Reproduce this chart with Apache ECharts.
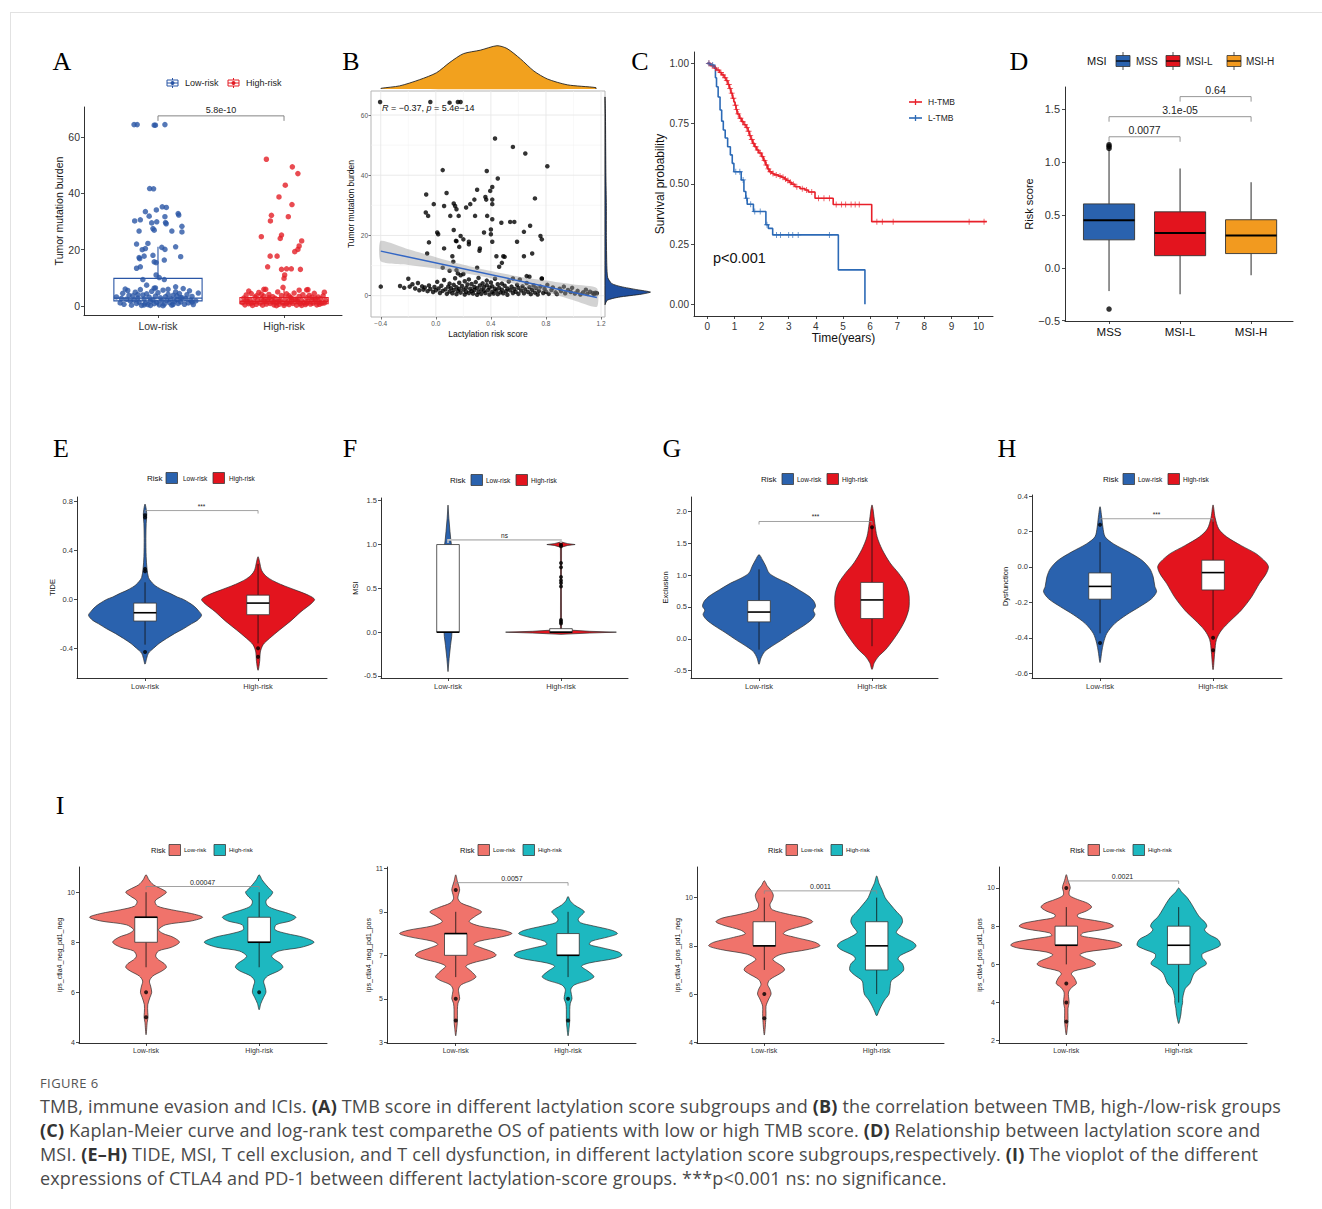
<!DOCTYPE html>
<html>
<head>
<meta charset="utf-8">
<script src="https://cdn.jsdelivr.net/npm/echarts@6/dist/echarts.min.js"></script>
<style>
  html, body { margin: 0; padding: 0; background: #fff; }
  #page { position: relative; width: 1322px; height: 1209px; overflow: hidden; background: #fff; }
  #frame { position: absolute; left: 10px; top: 12px; width: 1320px; height: 1210px; border-left: 1px solid #e2e2e2; border-top: 1px solid #e2e2e2; }
  #fig { position: absolute; left: 0; top: 0; width: 1322px; height: 1066px; }
  #caption { position: absolute; left: 40px; top: 1074px; font-family: 'Open Sans', 'Noto Sans', sans-serif; color: #4a4a4a; }
  .cap-head { font-size: 13px; line-height: 18px; color: #555; letter-spacing: 0.4px; margin-bottom: 2px; }
  .cap-line { font-size: 18px; line-height: 24px; letter-spacing: 0.17px; white-space: nowrap; }
  .cap-line b { color: #333; }
</style>
</head>
<body>
<div id="page">
  <div id="frame"></div>
  <div id="fig"></div>
  <div id="caption">
    <div class="cap-head">FIGURE 6</div>
    <div class="cap-line">TMB, immune evasion and ICIs. <b>(A)</b> TMB score in different lactylation score subgroups and <b>(B)</b> the correlation between TMB, high-/low-risk groups</div>
    <div class="cap-line"><b>(C)</b> Kaplan-Meier curve and log-rank test comparethe OS of patients with low or high TMB score. <b>(D)</b> Relationship between lactylation score and</div>
    <div class="cap-line">MSI. <b>(E–H)</b> TIDE, MSI, T cell exclusion, and T cell dysfunction, in different lactylation score subgroups,respectively. <b>(I)</b> The vioplot of the different</div>
    <div class="cap-line">expressions of CTLA4 and PD-1 between different lactylation-score groups. ***p&lt;0.001 ns: no significance.</div>
  </div>
</div>
<script>
// ---------- shared categories ----------
const riskGroups = ['Low-risk', 'High-risk'];
const msiGroups = ['MSS', 'MSI-L', 'MSI-H'];

// ---------- A: TMB by risk group (jitter offset, TMB) ----------
const tmbTicks = [0, 20, 40, 60];
const tmbLowPoints = [
  [-0.19,64.4],[-0.165,64.4],[-0.03,64.2],[-0.02,64.2],[0.055,64.4],
  [-0.066,41.7],[-0.035,41.6],[0.034,35.2],[0.066,35.0],[-0.013,34.1],[-0.1,33.5],[0.16,32.8],[0.165,32.3],
  [-0.185,30.2],[-0.14,30.6],[-0.07,31.9],[-0.01,29.9],[-0.05,29.5],[0.06,29.6],[0.065,29.2],[0.055,31.7],[0.19,28.3],
  [-0.15,26.6],[-0.04,27.5],[-0.03,26.9],[0.11,26.6],[0.19,26.3],
  [-0.17,22.0],[-0.08,22.2],[-0.125,20.0],[-0.1,20.4],[0.03,20.8],[0.055,20.1],[0.14,21.0],
  [-0.04,18.0],[-0.15,17.2],[-0.145,16.8],[-0.11,17.7],[0.18,17.5],[-0.03,15.7],[-0.015,15.4],[0.05,16.3],
  [-0.17,13.4],[-0.14,13.9],[-0.015,11.0],[0.01,10.1],[-0.12,9.4],[0.05,9.4],[-0.09,7.4],[-0.03,6.3],[0.14,6.8],
  [-0.33,3.2],[-0.3,1.1],[-0.28,4.5],[-0.27,0.6],[-0.25,2.4],[-0.24,5.5],[-0.22,1.8],[-0.21,0.3],[-0.2,3.6],[-0.19,2.1],
  [-0.18,4.9],[-0.17,0.9],[-0.16,2.8],[-0.15,1.4],[-0.14,5.8],[-0.13,0.2],[-0.12,3.9],[-0.11,2.5],[-0.1,1.0],[-0.09,4.3],
  [-0.08,0.5],[-0.07,3.1],[-0.06,1.7],[-0.05,5.2],[-0.04,2.2],[-0.03,0.8],[-0.02,3.5],[-0.01,1.3],[0.0,4.7],[0.01,0.4],
  [0.02,2.9],[0.03,1.9],[0.04,5.6],[0.05,0.7],[0.06,3.3],[0.07,2.0],[0.08,4.1],[0.09,1.2],[0.1,2.6],[0.11,0.3],
  [0.12,3.8],[0.13,1.6],[0.14,5.0],[0.15,2.3],[0.16,0.9],[0.17,4.4],[0.18,1.5],[0.19,3.0],[0.2,6.2],[0.21,0.6],
  [0.22,2.7],[0.23,4.0],[0.24,1.1],[0.25,5.4],[0.26,2.0],[0.27,3.4],[0.28,0.5],[0.3,1.8],[0.32,4.6],[-0.26,6.0],
  [-0.29,2.7],[-0.23,3.8],[0.04,0.1],[-0.06,0.2],[0.12,0.6],[0.18,2.9],[-0.16,4.0],[0.08,5.9],[-0.02,6.4],[0.27,1.4],
  [-0.11,0.4],[0.15,3.6]
];
const tmbHighPoints = [
  [-0.14,52.1],[0.066,49.4],[0.11,47.0],[0.01,42.9],[-0.04,38.7],[0.063,36.0],[-0.1,32.2],[-0.108,30.2],[0.034,31.7],
  [-0.18,24.6],[-0.02,25.2],[-0.03,24.0],[0.14,23.1],[0.12,21.3],[0.11,20.1],[0.085,19.3],[-0.11,17.7],[-0.055,17.7],
  [-0.13,13.9],[-0.02,13.0],[0.02,13.2],[0.058,13.2],[0.13,13.0],[0.005,11.0],[0.0,9.8],[-0.008,6.6],[-0.16,5.9],
  [-0.145,5.9],[0.18,5.7],[0.19,5.8],
  [-0.33,1.2],[-0.32,2.8],[-0.31,0.4],[-0.3,3.9],[-0.29,1.7],[-0.28,0.8],[-0.27,2.3],[-0.26,4.4],[-0.25,0.2],[-0.24,1.4],
  [-0.23,3.1],[-0.22,0.6],[-0.21,2.0],[-0.2,4.8],[-0.19,1.0],[-0.18,2.6],[-0.17,0.3],[-0.16,3.5],[-0.15,1.6],[-0.14,0.7],
  [-0.13,2.2],[-0.12,4.1],[-0.11,0.9],[-0.1,1.9],[-0.09,3.3],[-0.08,0.4],[-0.07,2.7],[-0.06,1.3],[-0.05,5.0],[-0.04,0.6],
  [-0.03,2.1],[-0.02,3.7],[-0.01,1.1],[0.0,0.2],[0.01,2.5],[0.02,4.3],[0.03,1.5],[0.04,0.5],[0.05,3.0],[0.06,1.8],
  [0.07,0.9],[0.08,4.6],[0.09,2.4],[0.1,0.3],[0.11,1.6],[0.12,3.4],[0.13,0.8],[0.14,2.0],[0.15,4.0],[0.16,1.2],
  [0.17,0.5],[0.18,2.9],[0.19,1.7],[0.2,3.8],[0.21,0.7],[0.22,2.3],[0.23,1.0],[0.24,4.5],[0.25,1.9],[0.26,0.4],
  [0.27,3.2],[0.28,1.4],[0.29,2.6],[0.3,0.9],[0.31,3.6],[0.32,1.1],[0.33,2.0],[-0.3,2.1],[-0.22,3.6],[-0.16,2.0],
  [-0.08,1.5],[0.02,0.9],[0.06,2.8],[0.14,0.2],[0.22,3.1],[0.28,0.6],[-0.26,1.0],[-0.12,2.9],[0.1,2.1],[0.18,1.0],
  [-0.04,1.8],[0.25,2.7],[-0.18,4.2],[0.04,3.6],[-0.06,0.1],[0.32,4.9],[-0.28,5.3],[0.12,5.6]
];
// [lower whisker, Q1, median, Q3, upper whisker]
const tmbLowBox = [0.0, 1.8, 2.8, 9.8, 21.0];
const tmbHighBox = [0.0, 0.8, 1.6, 3.0, 6.0];
const tmbPValue = [1, 2, 67.5, '5.8e-10'];

// ---------- B: lactylation risk score vs TMB ----------
const lactTicks = [-0.4, 0.0, 0.4, 0.8, 1.2];
const lactMinor = [-0.2, 0.2, 0.6, 1.0];
const tmbMinor = [10, 30, 50];
const lactTmbPoints = [
  [-0.405,64.3],[-0.04,64.3],[0.1,64.1],[0.16,64.3],[0.18,64.3],
  [0.43,52.2],[0.56,49.4],[0.65,47.2],[0.81,43.0],[0.05,41.7],[0.37,41.4],[0.45,38.9],[0.41,36.1],[0.395,34.8],[0.3,35.2],
  [0.36,32.8],[0.366,31.9],[-0.07,33.6],[0.078,34.1],[0.41,31.9],[0.72,32.3],[0.28,31.9],[0.25,30.4],[-0.015,30.4],[0.06,29.8],
  [0.13,30.6],[0.14,29.8],[0.15,28.7],[0.22,29.3],[0.41,30.4],[-0.073,27.6],[-0.056,26.5],[0.105,26.5],[0.166,26.5],[0.285,26.5],
  [0.373,26.5],[0.41,25.4],[0.54,24.5],[0.476,24.2],[0.57,24.5],[0.685,23.2],[0.64,21.2],[0.13,21.8],[0.35,21.0],[0.01,21.0],
  [0.017,20.4],[0.4,22.0],[0.4,20.4],[0.18,19.8],[0.2,18.7],[0.15,18.1],[0.76,19.8],[0.77,18.7],[-0.05,17.7],[0.24,17.9],
  [0.24,17.1],[0.41,17.9],[0.59,17.9],[0.06,15.7],[0.146,18.2],[0.17,16.2],[0.32,15.7],[0.317,14.9],[0.49,13.1],[0.5,12.9],
  [0.44,13.1],[0.64,13.1],[0.7,14.0],[-0.063,14.0],[0.12,13.1],[0.127,11.3],[0.48,10.9],[0.46,9.6],[0.3,9.3],[0.05,9.3],
  [0.15,8.5],[0.1,8.3],[0.16,7.4],[0.66,6.5],[0.77,5.7],
  [-0.4,3.0],[-0.26,3.2],[-0.23,2.6],[-0.2,5.6],[-0.19,3.0],[-0.17,3.8],[-0.15,2.4],[-0.13,4.2],[-0.12,1.8],[-0.1,3.1],
  [-0.09,2.0],[-0.08,2.7],[-0.06,1.5],[-0.05,3.4],[-0.04,2.2],[-0.02,1.2],[-0.01,2.9],[0.0,1.8],[0.01,4.6],[0.02,2.4],
  [0.03,0.9],[0.04,3.3],[0.05,1.6],[0.06,5.2],[0.07,2.1],[0.08,0.6],[0.09,3.0],[0.1,1.4],[0.1,4.0],[0.11,2.5],
  [0.12,0.8],[0.13,3.6],[0.13,1.9],[0.14,5.8],[0.15,2.8],[0.15,0.5],[0.16,1.6],[0.17,4.3],[0.17,2.2],[0.18,6.8],
  [0.18,1.0],[0.19,3.2],[0.2,7.2],[0.2,2.0],[0.21,0.4],[0.21,4.8],[0.22,2.6],[0.22,1.3],[0.23,3.7],[0.24,0.9],
  [0.24,5.4],[0.25,2.3],[0.26,1.5],[0.26,3.9],[0.27,0.7],[0.28,2.9],[0.28,1.9],[0.29,4.5],[0.3,0.3],[0.3,2.5],
  [0.31,5.9],[0.31,1.2],[0.32,3.4],[0.33,2.0],[0.33,0.6],[0.34,4.1],[0.35,1.6],[0.35,2.9],[0.36,0.9],[0.37,3.5],
  [0.37,5.0],[0.38,1.9],[0.39,0.4],[0.39,2.7],[0.4,4.4],[0.41,1.3],[0.41,3.1],[0.42,0.7],[0.43,2.3],[0.43,5.6],
  [0.44,1.7],[0.45,3.8],[0.45,0.5],[0.46,2.6],[0.47,1.1],[0.48,4.0],[0.48,2.0],[0.49,0.8],[0.5,3.3],[0.51,1.5],
  [0.52,2.4],[0.52,0.3],[0.53,4.7],[0.54,1.8],[0.55,3.0],[0.56,0.9],[0.56,5.7],[0.57,2.2],[0.58,1.3],[0.59,3.6],
  [0.6,0.6],[0.6,2.6],[0.61,5.4],[0.62,1.7],[0.63,3.1],[0.64,0.8],[0.65,2.1],[0.66,4.2],[0.67,1.2],[0.68,2.8],
  [0.68,6.3],[0.69,0.5],[0.7,1.9],[0.71,3.4],[0.72,1.0],[0.73,2.5],[0.74,0.4],[0.75,1.6],[0.76,3.0],[0.77,5.6],
  [0.78,0.9],[0.79,2.2],[0.8,1.3],[0.81,3.6],[0.82,0.6],[0.84,1.9],[0.85,2.7],[0.87,1.1],[0.88,0.5],[0.9,2.3],
  [0.91,1.5],[0.93,3.0],[0.94,0.8],[0.96,1.9],[0.98,1.2],[0.99,2.6],[1.01,0.7],[1.03,1.6],[1.05,0.4],[1.07,1.1],
  [1.09,2.0],[1.1,0.6],[1.12,1.3],[1.14,0.9],[1.15,0.5],[1.16,1.0],[1.17,0.8]
];
const fitLine = [[-0.4, 14.8], [1.17, -0.6]];
const fitBandX = [-0.4, -0.2, 0.0, 0.2, 0.4, 0.6, 0.8, 1.0, 1.17];
const fitBandUpper = [18.2, 15.4, 12.8, 10.3, 8.2, 6.4, 5.0, 3.7, 2.5];
const fitBandLower = [11.4, 10.2, 9.0, 7.5, 5.8, 3.6, 1.2, -1.5, -3.7];
// marginal densities: [score, density] and [TMB, density]
const lactDensity = [[-0.398,0.02],[-0.263,0.09],[-0.117,0.27],[0.005,0.47],[0.102,0.77],[0.2,1.02],[0.322,1.12],[0.444,1.25],[0.517,1.17],[0.615,0.87],[0.712,0.52],[0.81,0.29],[0.956,0.12],[1.163,0.04]];
const tmbDensity = [[-3,0],[-1.5,0.05],[-0.5,0.3],[0.5,0.8],[1.2,1.0],[2,0.7],[3,0.35],[4,0.15],[6,0.06],[10,0.04],[20,0.03],[30,0.03],[40,0.02],[50,0.015],[60,0.01],[66,0]];

// ---------- C: Kaplan-Meier by TMB ----------
const kmTimeTicks = [0,1,2,3,4,5,6,7,8,9,10];
const survTicks = [0, 0.25, 0.5, 0.75, 1.0];
const kmHigh = [[0,1],[0.12,0.99],[0.25,0.98],[0.34,0.972],[0.45,0.962],[0.53,0.952],[0.62,0.94],[0.69,0.928],[0.76,0.912],[0.81,0.896],[0.87,0.876],[0.93,0.855],[0.98,0.84],[1.02,0.826],[1.06,0.808],[1.1,0.79],[1.18,0.772],[1.27,0.758],[1.35,0.745],[1.43,0.733],[1.5,0.718],[1.55,0.7],[1.61,0.684],[1.67,0.668],[1.74,0.654],[1.82,0.64],[1.9,0.628],[2.0,0.613],[2.07,0.596],[2.15,0.578],[2.22,0.562],[2.28,0.55],[2.38,0.543],[2.46,0.537],[2.62,0.532],[2.74,0.527],[2.84,0.52],[2.92,0.514],[3.02,0.506],[3.11,0.498],[3.23,0.488],[3.42,0.48],[3.6,0.474],[3.72,0.466],[3.97,0.44],[4.64,0.414],[6.06,0.343],[10.3,0.343]];
const kmHighCensor = [[0.06,1],[0.18,0.99],[0.3,0.98],[0.4,0.972],[0.5,0.962],[0.58,0.952],[0.66,0.94],[0.72,0.928],[0.79,0.912],[0.84,0.896],[0.9,0.876],[0.96,0.855],[1.04,0.826],[1.08,0.808],[1.14,0.79],[1.22,0.772],[1.3,0.758],[1.39,0.745],[1.46,0.733],[1.52,0.718],[1.58,0.7],[1.64,0.684],[1.7,0.668],[1.78,0.654],[1.86,0.64],[1.95,0.628],[2.03,0.613],[2.11,0.596],[2.18,0.578],[2.25,0.562],[2.33,0.55],[2.42,0.543],[2.54,0.537],[2.68,0.532],[2.79,0.527],[2.88,0.52],[2.97,0.514],[3.06,0.506],[3.17,0.498],[3.3,0.488],[3.5,0.48],[3.66,0.474],[3.85,0.466],[4.1,0.44],[4.3,0.44],[4.5,0.44],[4.75,0.414],[4.95,0.414],[5.1,0.414],[5.3,0.414],[5.45,0.414],[5.6,0.414],[6.25,0.343],[6.45,0.343],[6.85,0.343],[9.65,0.343],[10.2,0.343]];
const kmLow = [[0,1],[0.1,0.993],[0.25,0.986],[0.3,0.94],[0.34,0.903],[0.4,0.86],[0.47,0.806],[0.53,0.76],[0.59,0.723],[0.66,0.69],[0.75,0.654],[0.85,0.62],[0.92,0.585],[0.98,0.55],[1.25,0.516],[1.35,0.468],[1.42,0.44],[1.47,0.415],[1.7,0.385],[2.16,0.33],[2.25,0.315],[2.41,0.288],[4.83,0.143],[5.81,0]];
const kmLowCensor = [[0.06,1],[0.2,0.993],[1.05,0.55],[1.2,0.55],[1.32,0.516],[1.45,0.44],[1.6,0.415],[1.75,0.385],[1.95,0.385],[2.2,0.33],[2.55,0.288],[2.7,0.288],[3.0,0.288],[3.15,0.288],[3.35,0.288],[4.5,0.288]];
const kmGroups = ['H-TMB', 'L-TMB'];

// ---------- D: risk score by MSI status ----------
const riskScoreTicks = [-0.5, 0.0, 0.5, 1.0, 1.5];
const msiBoxes = [[-0.22,0.265,0.45,0.605,1.12],[-0.25,0.115,0.33,0.53,0.94],[-0.07,0.135,0.305,0.455,0.81]];
const msiOutliers = [[1,1.13],[1,1.15],[1,1.165],[1,-0.39]];
const msiPValues = [[1,2,1.24,'0.0077'],[1,3,1.43,'3.1e-05'],[2,3,1.62,'0.64']];

// ---------- E-H: TIDE scores (violin profiles: [value, relative density]) ----------
const tideTicks = [-0.4, 0.0, 0.4, 0.8];
const tideLow = [[0.78,0],[0.7,0.03],[0.62,0.02],[0.5,0.015],[0.35,0.02],[0.25,0.035],[0.18,0.06],[0.15,0.1],[0.12,0.16],[0.1,0.22],[0.07,0.34],[0.05,0.44],[0.02,0.57],[0.0,0.68],[-0.03,0.79],[-0.06,0.88],[-0.1,0.96],[-0.13,1.0],[-0.17,0.93],[-0.2,0.82],[-0.24,0.68],[-0.28,0.52],[-0.32,0.38],[-0.36,0.25],[-0.4,0.15],[-0.44,0.06],[-0.48,0.03],[-0.53,0]];
const tideHigh = [[0.35,0],[0.3,0.03],[0.24,0.06],[0.2,0.12],[0.17,0.2],[0.14,0.32],[0.11,0.47],[0.07,0.7],[0.03,0.91],[0.0,1.0],[-0.035,0.94],[-0.1,0.76],[-0.18,0.57],[-0.25,0.38],[-0.32,0.2],[-0.37,0.09],[-0.43,0.04],[-0.5,0.03],[-0.58,0]];
const tideBoxes = [[-0.37,-0.177,-0.109,-0.03,0.14],[-0.36,-0.125,-0.03,0.035,0.29]];
const tideOutliers = [[0.67,0.69,0.25,0.23,-0.43],[-0.40,-0.47]];
const tideP = [1, 2, 0.727, '***'];

const msiTicks = [-0.5, 0.0, 0.5, 1.0, 1.5];
const msiLow = [[1.45,0],[1.3,0.015],[1.15,0.035],[1.05,0.05],[1.0,0.06],[0.5,0.04],[0.0,0.07],[-0.05,0.065],[-0.15,0.045],[-0.3,0.02],[-0.45,0]];
const msiHigh = [[1.03,0],[1.01,0.12],[1.0,0.25],[0.99,0.12],[0.97,0.01],[0.5,0.008],[0.03,0.01],[0.01,0.5],[0.0,0.98],[-0.01,0.5],[-0.025,0]];
const msiRiskBoxes = [[0,0,0,1,1],[0,0,0,0.04,0.04]];
const msiRiskOutliers = [[],[0.1,0.12,0.14,0.52,0.56,0.59,0.63,0.74,0.79,0.98,1.0]];
const msiRiskP = [1, 2, 1.053, 'ns'];

const exclTicks = [-0.5, 0.0, 0.5, 1.0, 1.5, 2.0];
const exclLow = [[1.32,0],[1.24,0.06],[1.14,0.12],[1.03,0.18],[0.95,0.32],[0.875,0.5],[0.77,0.7],[0.67,0.88],[0.59,0.97],[0.51,1.0],[0.45,0.96],[0.38,0.99],[0.3,0.93],[0.2,0.78],[0.1,0.6],[-0.02,0.4],[-0.12,0.22],[-0.2,0.1],[-0.3,0.035],[-0.4,0]];
const exclHigh = [[2.1,0],[2.02,0.02],[1.81,0.05],[1.6,0.09],[1.4,0.18],[1.19,0.32],[1.03,0.47],[0.875,0.59],[0.72,0.65],[0.59,0.66],[0.46,0.65],[0.3,0.59],[0.15,0.5],[-0.01,0.38],[-0.17,0.24],[-0.27,0.12],[-0.375,0.04],[-0.48,0]];
const exclBoxes = [[-0.17,0.266,0.42,0.6,1.09],[-0.115,0.318,0.61,0.885,1.76]];
const exclOutliers = [[],[1.75]];
const exclP = [1, 2, 1.84, '***'];

const dysTicks = [-0.6, -0.4, -0.2, 0.0, 0.2, 0.4];
const dysLow = [[0.34,0],[0.28,0.03],[0.225,0.05],[0.17,0.09],[0.13,0.24],[0.085,0.5],[0.038,0.74],[-0.01,0.88],[-0.056,0.94],[-0.11,0.97],[-0.14,1.0],[-0.18,0.91],[-0.225,0.7],[-0.27,0.47],[-0.32,0.26],[-0.375,0.12],[-0.43,0.06],[-0.48,0.03],[-0.54,0]];
const dysHigh = [[0.35,0],[0.28,0.035],[0.215,0.1],[0.17,0.24],[0.12,0.5],[0.075,0.76],[0.028,0.93],[0.0,0.98],[-0.038,0.94],[-0.094,0.82],[-0.17,0.68],[-0.244,0.5],[-0.3,0.32],[-0.357,0.15],[-0.41,0.06],[-0.48,0.03],[-0.58,0]];
const dysBoxes = [[-0.375,-0.182,-0.11,-0.034,0.14],[-0.357,-0.13,-0.032,0.038,0.27]];
const dysOutliers = [[0.238,-0.43],[-0.40,-0.47]];
const dysP = [1, 2, 0.272, '***'];

// ---------- I: immunophenoscores ----------
const ipsNegNegTicks = [4, 6, 8, 10];
const ipsNegNegLow = [[10.7,0],[10.5,0.05],[10.3,0.13],[10.1,0.3],[10.0,0.36],[9.85,0.28],[9.65,0.16],[9.45,0.2],[9.3,0.45],[9.15,0.8],[9.0,1.0],[8.85,0.8],[8.7,0.35],[8.5,0.22],[8.35,0.3],[8.2,0.48],[8.0,0.59],[7.8,0.45],[7.65,0.22],[7.45,0.17],[7.3,0.22],[7.15,0.32],[7.0,0.36],[6.85,0.28],[6.65,0.12],[6.45,0.06],[6.25,0.08],[6.0,0.1],[5.8,0.07],[5.5,0.03],[5.2,0.03],[5.0,0.035],[4.8,0.02],[4.3,0]];
const ipsNegNegHigh = [[10.7,0],[10.5,0.05],[10.3,0.12],[10.1,0.2],[10.0,0.24],[9.85,0.2],[9.65,0.12],[9.45,0.15],[9.3,0.3],[9.15,0.52],[9.0,0.65],[8.85,0.55],[8.7,0.3],[8.5,0.28],[8.35,0.48],[8.2,0.78],[8.0,0.97],[7.8,0.75],[7.65,0.35],[7.45,0.22],[7.3,0.28],[7.15,0.38],[7.0,0.42],[6.85,0.34],[6.65,0.15],[6.45,0.08],[6.25,0.1],[6.0,0.12],[5.8,0.08],[5.55,0.03],[5.3,0]];
const ipsNegNegBoxes = [[7,8,9,9,10],[7,8,8,9,10]];
const ipsNegNegOutliers = [[6,5],[6]];
const ipsNegNegP = [1, 2, 10.23, '0.00047'];

const ipsNegPosTicks = [3, 5, 7, 9, 11];
const ipsNegPosLow = [[10.7,0],[10.4,0.03],[10.15,0.06],[10.0,0.07],[9.8,0.05],[9.6,0.04],[9.4,0.1],[9.2,0.3],[9.0,0.46],[8.8,0.35],[8.55,0.24],[8.35,0.42],[8.15,0.85],[8.0,1.0],[7.85,0.82],[7.65,0.42],[7.5,0.32],[7.35,0.45],[7.15,0.66],[7.0,0.72],[6.85,0.6],[6.65,0.3],[6.5,0.18],[6.3,0.26],[6.1,0.34],[6.0,0.36],[5.85,0.28],[5.65,0.1],[5.45,0.05],[5.2,0.06],[5.0,0.07],[4.8,0.04],[4.5,0.03],[4.0,0.03],[3.7,0.02],[3.3,0]];
const ipsNegPosHigh = [[9.7,0],[9.5,0.04],[9.3,0.12],[9.15,0.22],[9.0,0.29],[8.85,0.24],[8.65,0.18],[8.5,0.22],[8.35,0.45],[8.15,0.78],[8.0,0.88],[7.85,0.72],[7.65,0.42],[7.5,0.38],[7.35,0.6],[7.15,0.9],[7.0,0.96],[6.85,0.82],[6.65,0.38],[6.5,0.24],[6.3,0.34],[6.1,0.44],[6.0,0.46],[5.85,0.36],[5.65,0.12],[5.45,0.05],[5.2,0.06],[5.0,0.07],[4.8,0.04],[4.5,0.03],[4.0,0.03],[3.7,0.02],[3.3,0]];
const ipsNegPosBoxes = [[6,7,8,8,9],[6,7,7,8,9]];
const ipsNegPosOutliers = [[10,5,4],[5,4]];
const ipsNegPosP = [1, 2, 10.34, '0.0057'];

const ipsPosNegTicks = [4, 6, 8, 10];
const ipsPosNegLow = [[10.7,0],[10.5,0.05],[10.3,0.12],[10.1,0.16],[9.9,0.14],[9.7,0.1],[9.5,0.14],[9.3,0.45],[9.15,0.75],[9.0,0.86],[8.85,0.72],[8.65,0.42],[8.5,0.34],[8.35,0.55],[8.15,0.9],[8.0,0.99],[7.85,0.78],[7.65,0.3],[7.45,0.15],[7.3,0.22],[7.15,0.32],[7.0,0.36],[6.85,0.28],[6.6,0.1],[6.4,0.06],[6.2,0.1],[6.0,0.12],[5.8,0.08],[5.5,0.03],[5.2,0.03],[4.9,0.025],[4.3,0]];
const ipsPosNegHigh = [[10.9,0],[10.6,0.04],[10.3,0.1],[10.0,0.15],[9.7,0.25],[9.4,0.36],[9.2,0.44],[9.0,0.46],[8.8,0.42],[8.55,0.35],[8.35,0.48],[8.15,0.65],[8.0,0.7],[7.85,0.64],[7.6,0.42],[7.45,0.38],[7.25,0.46],[7.0,0.48],[6.8,0.4],[6.55,0.26],[6.3,0.24],[6.0,0.22],[5.75,0.14],[5.5,0.08],[5.3,0.04],[5.1,0]];
const ipsPosNegBoxes = [[7,8,8,9,10],[6,7,8,9,10]];
const ipsPosNegOutliers = [[6,5],[]];
const ipsPosNegP = [1, 2, 10.28, '0.0011'];

const ipsPosPosTicks = [2, 4, 6, 8, 10];
const ipsPosPosLow = [[10.7,0],[10.4,0.03],[10.15,0.06],[10.0,0.07],[9.8,0.05],[9.6,0.06],[9.4,0.2],[9.2,0.38],[9.0,0.45],[8.8,0.36],[8.6,0.2],[8.45,0.22],[8.3,0.5],[8.15,0.76],[8.0,0.84],[7.85,0.7],[7.65,0.3],[7.5,0.26],[7.35,0.55],[7.15,0.92],[7.0,0.99],[6.85,0.85],[6.65,0.36],[6.5,0.24],[6.35,0.32],[6.15,0.48],[6.0,0.52],[5.85,0.42],[5.65,0.14],[5.5,0.09],[5.3,0.14],[5.0,0.18],[4.8,0.1],[4.55,0.04],[4.3,0.04],[4.0,0.05],[3.7,0.03],[3.3,0.03],[3.0,0.03],[2.7,0.02],[2.3,0]];
const ipsPosPosHigh = [[10.0,0],[9.8,0.05],[9.5,0.15],[9.2,0.22],[9.0,0.26],[8.7,0.32],[8.45,0.38],[8.2,0.47],[8.0,0.5],[7.8,0.46],[7.55,0.55],[7.3,0.7],[7.0,0.74],[6.8,0.62],[6.55,0.42],[6.35,0.42],[6.15,0.48],[6.0,0.49],[5.8,0.38],[5.55,0.28],[5.3,0.24],[5.0,0.2],[4.75,0.12],[4.5,0.09],[4.2,0.07],[4.0,0.07],[3.7,0.05],[3.4,0.04],[3.1,0.02],[2.9,0]];
const ipsPosPosBoxes = [[6,7,7,8,9],[4,6,7,8,9]];
const ipsPosPosOutliers = [[10,5,4,3],[]];
const ipsPosPosP = [1, 2, 10.37, '0.0021'];

// ---------- styling ----------
const FONT = "'Liberation Sans', Arial, Helvetica, sans-serif";
const SERIF = "'Liberation Serif', 'Times New Roman', serif";
const BLUE_A = '#2A56A5', RED_A = '#E31E26';
const RISK_BLUE = '#2A62AE', RISK_RED = '#E3141E';
const MSI_COLORS = ['#2A62AE', '#E3141E', '#F29A1F'];
const IPS_COLORS = ['#F0736B', '#1DB8C0'];
const VIOLIN_HALF = 0.5;

const option = { animation: false, grid: [], xAxis: [], yAxis: [], series: [], graphic: { elements: [] } };
const G = option.graphic.elements;

function addGrid(box) {
  const g = option.grid.length;
  option.grid.push({ left: box[0], top: box[1], width: box[2] - box[0], height: box[3] - box[1], show: false });
  return g;
}

function valAxis(g, min, max, ticks, o) {
  return {
    gridIndex: g, type: 'value', min: min, max: max,
    axisLine: { show: o.line !== false, onZero: false, lineStyle: { color: '#1a1a1a', width: o.lineWidth || 0.9 } },
    axisTick: { show: true, length: o.tickLen || 3, customValues: ticks, lineStyle: { color: o.tickColor || '#1a1a1a', width: 0.8 } },
    axisLabel: { show: true, customValues: ticks, formatter: o.fmt, fontSize: o.fs, color: o.labelColor || '#333', margin: o.margin || 4, fontFamily: FONT },
    splitLine: { show: false },
    name: o.title || '', nameLocation: 'middle', nameGap: o.nameGap || 20,
    nameTextStyle: { fontSize: o.titleFs || o.fs, color: '#111', fontFamily: FONT }
  };
}

const fmtRisk = v => riskGroups[Math.round(v) - 1];
const fmtMsi = v => msiGroups[Math.round(v) - 1];
const fmtFixed = n => v => { const s = Number(v).toFixed(n); return s.replace('-', '\u2212'); };
const fmtFixedHyphen = n => v => Number(v).toFixed(n);
const fmtInt = v => String(Math.round(v));

function gText(x, y, text, size, align, extra) {
  G.push(Object.assign({ type: 'text', x: x, y: y, silent: true, z: 50,
    style: Object.assign({ text: text, fontSize: size, fontFamily: FONT, fill: '#111', align: align || 'left', verticalAlign: 'middle' }, extra || {}) }));
}
function panelLetter(x, y, ch) {
  G.push({ type: 'text', x: x, y: y, silent: true, z: 50,
    style: { text: ch, fontSize: 26, fontFamily: SERIF, fill: '#000', align: 'center', verticalAlign: 'middle' } });
}

function addViolin(g, xc, prof, fill, smooth) {
  option.series.push({
    type: 'custom', xAxisIndex: g, yAxisIndex: g, silent: true, clip: false, z: 2,
    data: [[xc, prof[0][0]]],
    renderItem: function (params, api) {
      const right = prof.map(p => api.coord([xc + p[1] * VIOLIN_HALF, p[0]]));
      const left = prof.slice(1, -1).map(p => api.coord([xc - p[1] * VIOLIN_HALF, p[0]])).reverse();
      return { type: 'polygon', shape: { points: right.concat(left), smooth: smooth },
        style: { fill: fill, stroke: '#2a2a2a', lineWidth: 0.7 } };
    }
  });
}

function addBox(g, xc, b, o) {
  option.series.push({
    type: 'custom', xAxisIndex: g, yAxisIndex: g, silent: true, clip: false, z: o.z || 3,
    data: [[xc, b[2]]],
    renderItem: function (params, api) {
      const hw = o.half;
      const lo = api.coord([xc, b[0]]), hi = api.coord([xc, b[4]]);
      const q1 = api.coord([xc, b[1]]), q3 = api.coord([xc, b[3]]);
      const tl = api.coord([xc - hw, b[3]]), br = api.coord([xc + hw, b[1]]);
      const mL = api.coord([xc - hw, b[2]]), mR = api.coord([xc + hw, b[2]]);
      const ws = { stroke: o.whisker, lineWidth: o.lw };
      return { type: 'group', children: [
        { type: 'line', shape: { x1: lo[0], y1: lo[1], x2: q1[0], y2: q1[1] }, style: ws },
        { type: 'line', shape: { x1: q3[0], y1: q3[1], x2: hi[0], y2: hi[1] }, style: ws },
        { type: 'rect', shape: { x: tl[0], y: tl[1], width: br[0] - tl[0], height: Math.max(br[1] - tl[1], 0.5) },
          style: { fill: o.fill, stroke: o.stroke, lineWidth: o.lw } },
        { type: 'line', shape: { x1: mL[0], y1: mL[1], x2: mR[0], y2: mR[1] }, style: { stroke: o.median, lineWidth: o.mlw } }
      ] };
    }
  });
}

function addOutliers(g, pts, size) {
  option.series.push({ type: 'scatter', xAxisIndex: g, yAxisIndex: g, silent: true, z: 5,
    symbolSize: size, itemStyle: { color: '#000' }, data: pts });
}

function addBracket(g, b, o) {
  option.series.push({
    type: 'custom', xAxisIndex: g, yAxisIndex: g, silent: true, clip: false, z: 6,
    data: [[b[0], b[2]]],
    renderItem: function (params, api) {
      const p1 = api.coord([b[0], b[2]]), p2 = api.coord([b[1], b[2]]);
      return { type: 'group', children: [
        { type: 'polyline', shape: { points: [[p1[0], p1[1] + o.leg], [p1[0], p1[1]], [p2[0], p2[1]], [p2[0], p2[1] + o.leg]] },
          style: { stroke: o.color, lineWidth: o.lw, fill: null } },
        { type: 'text', x: (p1[0] + p2[0]) / 2, y: p1[1] - o.gap,
          style: { text: b[3], fontSize: o.fs, fontFamily: FONT, fill: '#222', align: 'center', verticalAlign: 'bottom' } }
      ] };
    }
  });
}

function riskLegend(x, y, colors, sp) {
  gText(x, y, 'Risk', sp.fs, 'left');
  G.push({ type: 'rect', silent: true, z: 50, shape: { x: x + sp.i1, y: y - 5.5, width: 11.5, height: 11 }, style: { fill: colors[0], stroke: '#3a3a3a', lineWidth: 0.8 } });
  gText(x + sp.t1, y, riskGroups[0], sp.ls, 'left');
  G.push({ type: 'rect', silent: true, z: 50, shape: { x: x + sp.i2, y: y - 5.5, width: 11.5, height: 11 }, style: { fill: colors[1], stroke: '#3a3a3a', lineWidth: 0.8 } });
  gText(x + sp.t2, y, riskGroups[1], sp.ls, 'left');
}

// violin panel used by E-H and I
function violinPanel(c) {
  const g = addGrid(c.box);
  option.xAxis.push(valAxis(g, c.xr[0], c.xr[1], [1, 2], { fmt: fmtRisk, fs: c.fs, margin: 4 }));
  option.yAxis.push(valAxis(g, c.yr[0], c.yr[1], c.ticks, { fmt: c.fmt, fs: c.fs, title: c.title, titleFs: c.fs, nameGap: c.nameGap }));
  c.profiles.forEach((p, i) => addViolin(g, i + 1, p, c.colors[i], c.smooth));
  c.boxes.forEach((b, i) => addBox(g, i + 1, b, { half: 0.1, fill: '#fff', stroke: '#333', whisker: '#111', lw: 0.8, median: '#000', mlw: 1.6 }));
  c.outliers.forEach((arr, i) => addOutliers(g, arr.map(v => [i + 1, v]), 4));
  addBracket(g, c.p, { leg: 3, gap: 1, color: c.bracketColor || '#8a8a8a', lw: c.bracketLw || 0.8, fs: c.pFs });
  riskLegend(c.legend[0], c.legend[1], c.colors, c.legendSp);
  if (c.letter) panelLetter(c.letter[0], c.letter[1], c.letter[2]);
}

// ---------------- Panel A ----------------
(function () {
  const g = addGrid([84, 107, 342, 315]);
  option.xAxis.push(valAxis(g, 0.413, 2.46, [1, 2], { fmt: fmtRisk, fs: 10.5, margin: 5 }));
  option.yAxis.push(valAxis(g, -3.2, 70.65, tmbTicks, { fmt: fmtInt, fs: 10.5, title: 'Tumor mutation burden', titleFs: 10.5, nameGap: 20 }));
  addBox(g, 1, tmbLowBox, { half: 0.35, fill: 'rgba(255,255,255,0)', stroke: BLUE_A, whisker: BLUE_A, lw: 1.1, median: BLUE_A, mlw: 1.4, z: 2 });
  addBox(g, 2, tmbHighBox, { half: 0.35, fill: 'rgba(255,255,255,0)', stroke: RED_A, whisker: RED_A, lw: 1.1, median: RED_A, mlw: 1.4, z: 2 });
  option.series.push({ type: 'scatter', xAxisIndex: g, yAxisIndex: g, silent: true, z: 4, symbolSize: 5.5,
    itemStyle: { color: BLUE_A }, data: tmbLowPoints.map(p => [1 + p[0], p[1]]) });
  option.series.push({ type: 'scatter', xAxisIndex: g, yAxisIndex: g, silent: true, z: 4, symbolSize: 5.5,
    itemStyle: { color: RED_A }, data: tmbHighPoints.map(p => [2 + p[0], p[1]]) });
  addBracket(g, tmbPValue, { leg: 5, gap: 1, color: '#777', lw: 0.9, fs: 9 });
  // legend
  [[172.5, BLUE_A, riskGroups[0], 185], [233.5, RED_A, riskGroups[1], 246]].forEach(function (it) {
    const cx = it[0], cy = 83;
    G.push({ type: 'line', silent: true, z: 50, shape: { x1: cx, y1: cy - 5, x2: cx, y2: cy + 5 }, style: { stroke: it[1], lineWidth: 1 } });
    G.push({ type: 'rect', silent: true, z: 50, shape: { x: cx - 5.5, y: cy - 3, width: 11, height: 6 }, style: { fill: '#fff', stroke: it[1], lineWidth: 1 } });
    G.push({ type: 'line', silent: true, z: 50, shape: { x1: cx - 5.5, y1: cy, x2: cx + 5.5, y2: cy }, style: { stroke: it[1], lineWidth: 1 } });
    G.push({ type: 'circle', silent: true, z: 51, shape: { cx: cx, cy: cy, r: 2 }, style: { fill: it[1] } });
    gText(it[3], cy, it[2], 9, 'left', { fill: '#222' });
  });
  panelLetter(62, 61, 'A');
})();

// ---------------- Panel B ----------------
(function () {
  const box = [371, 91, 605, 317];
  const g = addGrid(box);
  option.grid[g].show = true;
  option.grid[g].borderColor = '#b5b5b5';
  option.grid[g].borderWidth = 1;
  option.grid[g].backgroundColor = '#fff';
  option.xAxis.push(valAxis(g, -0.471, 1.229, lactTicks, { fmt: fmtFixed(1), fs: 6.5, line: false, tickColor: '#555', tickLen: 2.5, labelColor: '#555', margin: 3, title: 'Lactylation risk score', titleFs: 8.5, nameGap: 12 }));
  option.yAxis.push(valAxis(g, -7.08, 67.97, tmbTicks, { fmt: fmtInt, fs: 6.5, line: false, tickColor: '#555', tickLen: 2.5, labelColor: '#555', margin: 3, title: 'Tumor mutation burden', titleFs: 8.5, nameGap: 16 }));
  // panel grid lines
  option.series.push({
    type: 'custom', xAxisIndex: g, yAxisIndex: g, silent: true, clip: true, z: 0,
    data: [[0, 0]],
    renderItem: function (params, api) {
      const ch = [];
      const xmin = -0.471, xmax = 1.229, ymin = -7.08, ymax = 67.97;
      lactMinor.forEach(v => { const a = api.coord([v, ymin]), b = api.coord([v, ymax]); ch.push({ type: 'line', shape: { x1: a[0], y1: a[1], x2: b[0], y2: b[1] }, style: { stroke: '#f4f4f4', lineWidth: 0.6 } }); });
      tmbMinor.forEach(v => { const a = api.coord([xmin, v]), b = api.coord([xmax, v]); ch.push({ type: 'line', shape: { x1: a[0], y1: a[1], x2: b[0], y2: b[1] }, style: { stroke: '#f4f4f4', lineWidth: 0.6 } }); });
      lactTicks.forEach(v => { const a = api.coord([v, ymin]), b = api.coord([v, ymax]); ch.push({ type: 'line', shape: { x1: a[0], y1: a[1], x2: b[0], y2: b[1] }, style: { stroke: '#e8e8e8', lineWidth: 0.9 } }); });
      tmbTicks.forEach(v => { const a = api.coord([xmin, v]), b = api.coord([xmax, v]); ch.push({ type: 'line', shape: { x1: a[0], y1: a[1], x2: b[0], y2: b[1] }, style: { stroke: '#e8e8e8', lineWidth: 0.9 } }); });
      return { type: 'group', children: ch };
    }
  });
  option.series.push({ type: 'scatter', xAxisIndex: g, yAxisIndex: g, silent: true, z: 3, symbolSize: 4.5,
    itemStyle: { color: '#000' }, data: lactTmbPoints });
  // confidence band
  option.series.push({
    type: 'custom', xAxisIndex: g, yAxisIndex: g, silent: true, clip: true, z: 4,
    data: [[fitBandX[0], fitBandUpper[0]]],
    renderItem: function (params, api) {
      const up = fitBandX.map((x, i) => api.coord([x, fitBandUpper[i]]));
      const lo = fitBandX.map((x, i) => api.coord([x, fitBandLower[i]])).reverse();
      return { type: 'polygon', shape: { points: up.concat(lo), smooth: 0.2 }, style: { fill: 'rgba(150,150,150,0.42)' } };
    }
  });
  option.series.push({ type: 'line', xAxisIndex: g, yAxisIndex: g, silent: true, z: 5, showSymbol: false,
    lineStyle: { color: '#3366c4', width: 1.5 }, data: fitLine });
  gText(382, 108, '{i|R} = \u22120.37, {i|p} = 5.4e\u221214', 9, 'left', { rich: { i: { fontStyle: 'italic', fontSize: 9, fontFamily: FONT } } });

  // top marginal density
  const gt = addGrid([371, 44, 605, 89]);
  option.xAxis.push({ gridIndex: gt, type: 'value', min: -0.471, max: 1.229, show: false });
  option.yAxis.push({ gridIndex: gt, type: 'value', min: 0, max: 1.3, show: false });
  option.series.push({
    type: 'custom', xAxisIndex: gt, yAxisIndex: gt, silent: true, clip: false, z: 3,
    data: [[lactDensity[0][0], 0]],
    renderItem: function (params, api) {
      const top = lactDensity.map(p => api.coord([p[0], p[1]]));
      const a = api.coord([lactDensity[0][0], 0]), b = api.coord([lactDensity[lactDensity.length - 1][0], 0]);
      return { type: 'group', children: [
        { type: 'polygon', shape: { points: [a].concat(top, [b]), smooth: 0.25 }, style: { fill: '#F2A11E' } },
        { type: 'polyline', shape: { points: [a].concat(top, [b]), smooth: 0.25 }, style: { stroke: '#222', lineWidth: 0.9, fill: null } }
      ] };
    }
  });
  // right marginal density
  const gr = addGrid([605, 91, 655, 317]);
  option.xAxis.push({ gridIndex: gr, type: 'value', min: 0, max: 1.1, show: false });
  option.yAxis.push({ gridIndex: gr, type: 'value', min: -7.08, max: 67.97, show: false });
  option.series.push({
    type: 'custom', xAxisIndex: gr, yAxisIndex: gr, silent: true, clip: false, z: 3,
    data: [[0, tmbDensity[0][0]]],
    renderItem: function (params, api) {
      const edge = tmbDensity.map(p => api.coord([p[1], p[0]]));
      const a = api.coord([0, tmbDensity[0][0]]), b = api.coord([0, tmbDensity[tmbDensity.length - 1][0]]);
      return { type: 'polygon', shape: { points: [a].concat(edge, [b]), smooth: 0.2 }, style: { fill: '#1F4E9E', stroke: '#1a1a1a', lineWidth: 0.8 } };
    }
  });
  panelLetter(351, 61, 'B');
})();

// ---------------- Panel C ----------------
(function () {
  const g = addGrid([694, 52, 993, 316]);
  option.xAxis.push(valAxis(g, -0.49, 10.53, kmTimeTicks, { fmt: fmtInt, fs: 10, margin: 5, title: 'Time(years)', titleFs: 12, nameGap: 16 }));
  option.yAxis.push(valAxis(g, -0.0486, 1.047, survTicks, { fmt: fmtFixedHyphen(2), fs: 10, margin: 5, title: 'Survival probability', titleFs: 12, nameGap: 27 }));
  const plus = 'path://M4.3,0h1.4v4.3h4.3v1.4h-4.3v4.3h-1.4v-4.3h-4.3v-1.4h4.3z';
  option.series.push({ type: 'line', xAxisIndex: g, yAxisIndex: g, silent: true, z: 3, step: 'end', showSymbol: false,
    lineStyle: { color: '#E8202A', width: 1.6 }, data: kmHigh });
  option.series.push({ type: 'line', xAxisIndex: g, yAxisIndex: g, silent: true, z: 3, step: 'end', showSymbol: false,
    lineStyle: { color: '#2C6AB6', width: 1.6 }, data: kmLow });
  option.series.push({ type: 'scatter', xAxisIndex: g, yAxisIndex: g, silent: true, z: 4, symbol: plus, symbolSize: 6,
    itemStyle: { color: '#E8202A' }, data: kmHighCensor });
  option.series.push({ type: 'scatter', xAxisIndex: g, yAxisIndex: g, silent: true, z: 4, symbol: plus, symbolSize: 6,
    itemStyle: { color: '#2C6AB6' }, data: kmLowCensor });
  [[102, '#E8202A', kmGroups[0]], [118, '#2C6AB6', kmGroups[1]]].forEach(function (it) {
    G.push({ type: 'line', silent: true, z: 50, shape: { x1: 909, y1: it[0], x2: 922, y2: it[0] }, style: { stroke: it[1], lineWidth: 1.6 } });
    G.push({ type: 'line', silent: true, z: 50, shape: { x1: 915.5, y1: it[0] - 3, x2: 915.5, y2: it[0] + 3 }, style: { stroke: it[1], lineWidth: 1.3 } });
    gText(928, it[0], it[2], 8.5, 'left', { fill: '#222' });
  });
  gText(713, 258, 'p<0.001', 14.5, 'left', { fill: '#111' });
  panelLetter(640, 61, 'C');
})();

// ---------------- Panel D ----------------
(function () {
  const g = addGrid([1065, 87, 1293, 321]);
  option.xAxis.push(valAxis(g, 0.38, 3.59, [1, 2, 3], { fmt: fmtMsi, fs: 11.5, margin: 5, labelColor: '#111' }));
  option.yAxis.push(valAxis(g, -0.503, 1.711, riskScoreTicks, { fmt: fmtFixed(1), fs: 11, margin: 5, title: 'Risk score', titleFs: 11, nameGap: 31 }));
  msiBoxes.forEach((b, i) => addBox(g, i + 1, b, { half: 0.36, fill: MSI_COLORS[i], stroke: '#333', whisker: '#111', lw: 0.9, median: '#000', mlw: 2 }));
  addOutliers(g, msiOutliers, 5.5);
  msiPValues.forEach(p => addBracket(g, p, { leg: 5, gap: 1, color: '#8a8a8a', lw: 0.9, fs: 10.5 }));
  gText(1087, 61, 'MSI', 11, 'left');
  [[1116, 1136], [1166, 1186], [1227, 1246]].forEach(function (pos, i) {
    const x = pos[0];
    G.push({ type: 'line', silent: true, z: 50, shape: { x1: x + 7, y1: 52, x2: x + 7, y2: 70 }, style: { stroke: '#222', lineWidth: 0.8 } });
    G.push({ type: 'rect', silent: true, z: 51, shape: { x: x, y: 55.5, width: 14, height: 11 }, style: { fill: MSI_COLORS[i], stroke: '#333', lineWidth: 0.8 } });
    G.push({ type: 'line', silent: true, z: 52, shape: { x1: x, y1: 61, x2: x + 14, y2: 61 }, style: { stroke: '#000', lineWidth: 1.2 } });
    gText(pos[1], 61, msiGroups[i], 10, 'left', { fill: '#222' });
  });
  panelLetter(1019, 61, 'D');
})();

// ---------------- Panels E-H ----------------
const ehLegendSp = { fs: 8, ls: 6.5, i1: 19, t1: 36, i2: 66, t2: 82 };
violinPanel({ box: [77, 497, 327, 678], xr: [0.398, 2.61], yr: [-0.643, 0.838], ticks: tideTicks, fmt: fmtFixedHyphen(1),
  fs: 7.5, title: 'TIDE', nameGap: 20, profiles: [tideLow, tideHigh], colors: [RISK_BLUE, RISK_RED], smooth: 0.3,
  boxes: tideBoxes, outliers: tideOutliers, p: tideP, pFs: 6.5,
  legend: [147, 478], legendSp: ehLegendSp, letter: [61, 448, 'E'] });
violinPanel({ box: [381, 498, 628, 678], xr: [0.407, 2.593], yr: [-0.523, 1.531], ticks: msiTicks, fmt: fmtFixedHyphen(1),
  fs: 7.5, title: 'MSI', nameGap: 22, profiles: [msiLow, msiHigh], colors: [RISK_BLUE, RISK_RED], smooth: 0,
  boxes: msiRiskBoxes, outliers: msiRiskOutliers, p: msiRiskP, pFs: 6.5, bracketColor: '#c4c4c4', bracketLw: 1.6,
  legend: [450, 480], legendSp: { fs: 8, ls: 6.5, i1: 21, t1: 36, i2: 66, t2: 81 }, letter: [350, 448, 'F'] });
violinPanel({ box: [691, 497, 938, 678], xr: [0.398, 2.584], yr: [-0.614, 2.224], ticks: exclTicks, fmt: fmtFixedHyphen(1),
  fs: 7.5, title: 'Exclusion', nameGap: 22, profiles: [exclLow, exclHigh], colors: [RISK_BLUE, RISK_RED], smooth: 0.3,
  boxes: exclBoxes, outliers: exclOutliers, p: exclP, pFs: 6.5,
  legend: [761, 479], legendSp: { fs: 8, ls: 6.5, i1: 21, t1: 36, i2: 66, t2: 81 }, letter: [672, 448, 'G'] });
violinPanel({ box: [1032, 495, 1282, 678], xr: [0.398, 2.61], yr: [-0.627, 0.406], ticks: dysTicks, fmt: fmtFixedHyphen(1),
  fs: 7.5, title: 'Dysfunction', nameGap: 23, profiles: [dysLow, dysHigh], colors: [RISK_BLUE, RISK_RED], smooth: 0.3,
  boxes: dysBoxes, outliers: dysOutliers, p: dysP, pFs: 6.5,
  legend: [1103, 479], legendSp: { fs: 8, ls: 6.5, i1: 20, t1: 35, i2: 65, t2: 80 }, letter: [1007, 448, 'H'] });

// ---------------- Panel I ----------------
const iLegendSp = { fs: 7.5, ls: 6, i1: 18, t1: 33, i2: 63, t2: 78 };
violinPanel({ box: [79, 867, 327, 1043], xr: [0.407, 2.6], yr: [3.97, 11.01], ticks: ipsNegNegTicks, fmt: fmtInt,
  fs: 7, title: 'ips_ctla4_neg_pd1_neg', nameGap: 13, profiles: [ipsNegNegLow, ipsNegNegHigh], colors: IPS_COLORS, smooth: 0.3,
  boxes: ipsNegNegBoxes, outliers: ipsNegNegOutliers, p: ipsNegNegP, pFs: 7,
  legend: [151, 850], legendSp: iLegendSp, letter: [60, 805, 'I'] });
violinPanel({ box: [387, 867, 636, 1043], xr: [0.388, 2.605], yr: [2.97, 11.06], ticks: ipsNegPosTicks, fmt: fmtInt,
  fs: 7, title: 'ips_ctla4_neg_pd1_pos', nameGap: 12, profiles: [ipsNegPosLow, ipsNegPosHigh], colors: IPS_COLORS, smooth: 0.3,
  boxes: ipsNegPosBoxes, outliers: ipsNegPosOutliers, p: ipsNegPosP, pFs: 7,
  legend: [460, 850], legendSp: iLegendSp, letter: null });
violinPanel({ box: [697, 867, 944, 1043], xr: [0.401, 2.599], yr: [3.97, 11.27], ticks: ipsPosNegTicks, fmt: fmtInt,
  fs: 7, title: 'ips_ctla4_pos_pd1_neg', nameGap: 15, profiles: [ipsPosNegLow, ipsPosNegHigh], colors: IPS_COLORS, smooth: 0.3,
  boxes: ipsPosNegBoxes, outliers: ipsPosNegOutliers, p: ipsPosNegP, pFs: 7,
  legend: [768, 850], legendSp: iLegendSp, letter: null });
violinPanel({ box: [999, 867, 1247, 1043], xr: [0.401, 2.608], yr: [1.88, 11.1], ticks: ipsPosPosTicks, fmt: fmtInt,
  fs: 7, title: 'ips_ctla4_pos_pd1_pos', nameGap: 14, profiles: [ipsPosPosLow, ipsPosPosHigh], colors: IPS_COLORS, smooth: 0.3,
  boxes: ipsPosPosBoxes, outliers: ipsPosPosOutliers, p: ipsPosPosP, pFs: 7,
  legend: [1070, 850], legendSp: iLegendSp, letter: null });

const chart = echarts.init(document.getElementById('fig'), null, { renderer: 'svg' });
chart.setOption(option);
</script>
</body>
</html>
